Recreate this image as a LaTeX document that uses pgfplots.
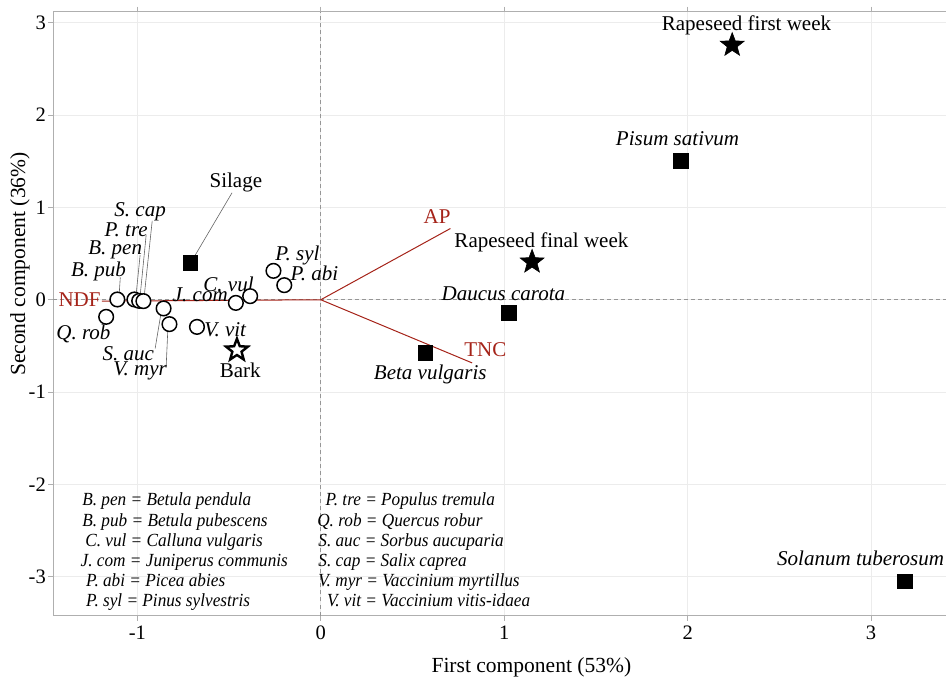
\documentclass[border=0pt]{standalone}
\usepackage{fontspec}
\setmainfont{Liberation Serif}
\newfontfamily\glfont{Liberation Serif}[FakeStretch=0.93]
\usepackage{pgfplots}
\pgfplotsset{compat=1.18}
\definecolor{ld}{RGB}{165,35,25}
\definecolor{framegray}{RGB}{175,175,175}
\definecolor{gridgray}{RGB}{236,236,236}
\definecolor{zerogray}{RGB}{150,150,150}
\definecolor{leadgray}{RGB}{100,100,100}
\pgfdeclareplotmark{pstar}{%
  \pgfpathmoveto{\pgfpointpolar{90}{\pgfplotmarksize}}%
  \pgfpathlineto{\pgfpointpolar{126}{0.42\pgfplotmarksize}}%
  \pgfpathlineto{\pgfpointpolar{162}{\pgfplotmarksize}}%
  \pgfpathlineto{\pgfpointpolar{198}{0.42\pgfplotmarksize}}%
  \pgfpathlineto{\pgfpointpolar{234}{\pgfplotmarksize}}%
  \pgfpathlineto{\pgfpointpolar{270}{0.42\pgfplotmarksize}}%
  \pgfpathlineto{\pgfpointpolar{306}{\pgfplotmarksize}}%
  \pgfpathlineto{\pgfpointpolar{342}{0.42\pgfplotmarksize}}%
  \pgfpathlineto{\pgfpointpolar{18}{\pgfplotmarksize}}%
  \pgfpathlineto{\pgfpointpolar{54}{0.42\pgfplotmarksize}}%
  \pgfpathclose
  \pgfusepathqfillstroke
}
\newcommand{\lf}{\fontsize{21}{25}\selectfont}
\newcommand{\gf}{\glfont\fontsize{18.5}{22}\selectfont\itshape}
\tikzset{
  lab/.style={font=\lf, inner sep=0pt},
  ilab/.style={font=\lf\itshape, inner sep=0pt},
  gl/.style={font=\gf, inner sep=0pt, anchor=west, text height=0.7em, text depth=0.2em},
}
\pgfplotsset{lead/.style={leadgray, line width=0.6pt, no marks}}
\begin{document}
\begin{tikzpicture}
\begin{axis}[
  scale only axis, width=892.7pt, height=603.3pt,
  xmin=-1.458, xmax=3.413, ymin=-3.42, ymax=3.12,
  xtick={-1,0,1,2,3}, xticklabels={-1,0,1,2,3},
  ytick={-3,-2,-1,0,1,2,3}, yticklabels={-3,-2,-1,0,1,2,3},
  tick align=outside, major tick length=5pt,
  tick style={framegray, line width=0.9pt},
  axis line style={framegray, line width=1.3pt},
  grid=major, grid style={gridgray, line width=0.9pt},
  ticklabel style={font=\fontsize{20.5}{24}\selectfont},
  xticklabel style={yshift=-2pt},
  yticklabel style={xshift=1pt},
  clip=false,
]
% zero lines
\addplot[zerogray, dashed, dash pattern=on 4pt off 3pt, line width=0.8pt, no marks] coordinates {(0,-3.42) (0,3.12)};
\addplot[zerogray, dashed, dash pattern=on 4pt off 3pt, line width=0.8pt, no marks] coordinates {(-1.458,0) (3.413,0)};
% loadings
\addplot[ld, line width=1pt, no marks] coordinates {(0,0) (-1.194,-0.015)};
\addplot[ld, line width=1pt, no marks] coordinates {(0,0) (0.707,0.772)};
\addplot[ld, line width=1pt, no marks] coordinates {(0,0) (0.825,-0.684)};
% leader lines
\addplot[lead] coordinates {(-0.484,1.158) (-0.690,0.465)};
\addplot[lead] coordinates {(-1.093,0.242) (-1.099,0.061)};
\addplot[lead] coordinates {(-0.985,0.483) (-1.007,0.050)};
\addplot[lead] coordinates {(-0.952,0.700) (-0.985,0.039)};
\addplot[lead] coordinates {(-0.919,0.855) (-0.963,0.031)};
\addplot[lead] coordinates {(-0.903,-0.528) (-0.872,-0.156)};
\addplot[lead] coordinates {(-0.843,-0.727) (-0.834,-0.329)};
% species (open circles)
\addplot[only marks, mark=*, mark size=7.3pt, mark options={draw=black, fill=white, line width=1.5pt}] coordinates {
(-1.109,0.003) (-1.016,0.003) (-0.990,-0.012) (-0.967,-0.015)
(-1.170,-0.185) (-0.857,-0.094) (-0.825,-0.264) (-0.675,-0.294)
(-0.463,-0.034) (-0.385,0.039) (-0.258,0.313) (-0.199,0.158)
};
% feeds (squares)
\addplot[only marks, mark=square*, mark size=7.3pt, mark options={draw=black, fill=black}] coordinates {
(1.961,1.505) (1.025,-0.138) (0.570,-0.571) (3.185,-3.049) (-0.712,0.400)
};
% filled stars
\addplot[only marks, mark=pstar, mark size=12.5pt, mark options={draw=black, fill=black, line width=0.6pt}] coordinates {
(2.243,2.758) (1.152,0.410)
};
% open star
\addplot[only marks, mark=pstar, mark size=11.5pt, mark options={draw=black, fill=white, line width=2.4pt, line join=miter}] coordinates {
(-0.457,-0.546)
};
% point labels
\node[lab] at (axis cs:2.321,2.975) {Rapeseed first week};
\node[ilab] at (axis cs:1.945,1.75) {Pisum sativum};
\node[lab] at (axis cs:1.203,0.627) {Rapeseed final week};
\node[ilab] at (axis cs:0.996,0.06) {Daucus carota};
\node[ilab] at (axis cs:0.597,-0.806) {Beta vulgaris};
\node[ilab] at (axis cs:2.943,-2.80) {Solanum tuberosum};
\node[lab] at (axis cs:-0.463,1.267) {Silage};
\node[lab] at (axis cs:-0.439,-0.763) {Bark};
\node[ilab] at (axis cs:-0.521,-0.319) {V. vit};
\node[ilab] at (axis cs:-0.657,0.05) {J. com};
\node[ilab] at (axis cs:-0.503,0.169) {C. vul};
\node[ilab] at (axis cs:-0.127,0.483) {P. syl};
\node[ilab] at (axis cs:-0.035,0.285) {P. abi};
\node[ilab] at (axis cs:-1.294,-0.373) {Q. rob};
\node[ilab] at (axis cs:-1.049,-0.582) {S. auc};
\node[ilab] at (axis cs:-0.985,-0.774) {V. myr};
\node[ilab] at (axis cs:-1.212,0.31) {B. pub};
\node[ilab] at (axis cs:-1.121,0.545) {B. pen};
\node[ilab] at (axis cs:-1.061,0.762) {P. tre};
\node[ilab] at (axis cs:-0.985,0.952) {S. cap};
% loading labels
\node[lab, text=ld, anchor=east, inner xsep=1pt] at (axis cs:-1.194,0) {NDF};
\node[lab, text=ld] at (axis cs:0.634,0.898) {AP};
\node[lab, text=ld] at (axis cs:0.897,-0.538) {TNC};
% glossary
\node[gl] at (axis cs:-1.301,-2.200) {B. pen = Betula pendula};
\node[gl] at (axis cs:-1.301,-2.424) {B. pub = Betula pubescens};
\node[gl] at (axis cs:-1.285,-2.641) {C. vul = Calluna vulgaris};
\node[gl] at (axis cs:-1.310,-2.865) {J. com = Juniperus communis};
\node[gl] at (axis cs:-1.280,-3.082) {P. abi = Picea abies};
\node[gl] at (axis cs:-1.280,-3.291) {P. syl = Pinus sylvestris};
\node[gl] at (axis cs:0.025,-2.200) {P. tre = Populus tremula};
\node[gl] at (axis cs:-0.020,-2.424) {Q. rob = Quercus robur};
\node[gl] at (axis cs:-0.014,-2.641) {S. auc = Sorbus aucuparia};
\node[gl] at (axis cs:-0.014,-2.865) {S. cap = Salix caprea};
\node[gl] at (axis cs:-0.014,-3.082) {V. myr = Vaccinium myrtillus};
\node[gl] at (axis cs:0.033,-3.291) {V. vit = Vaccinium vitis-idaea};
% axis titles
\node[font=\fontsize{21.5}{25}\selectfont, inner sep=0pt] at ([yshift=-51.7pt]rel axis cs:0.535,0) {First component (53\%)};
\node[font=\fontsize{21.5}{25}\selectfont, inner sep=0pt, rotate=90] at ([xshift=-33.3pt]rel axis cs:0,0.582) {Second component (36\%)};
\end{axis}
\pgfresetboundingbox
\path ([xshift=-53.3pt,yshift=-65pt]current axis.south west) rectangle ([xshift=-0.8pt,yshift=11.7pt]current axis.north east);
\end{tikzpicture}
\end{document}
